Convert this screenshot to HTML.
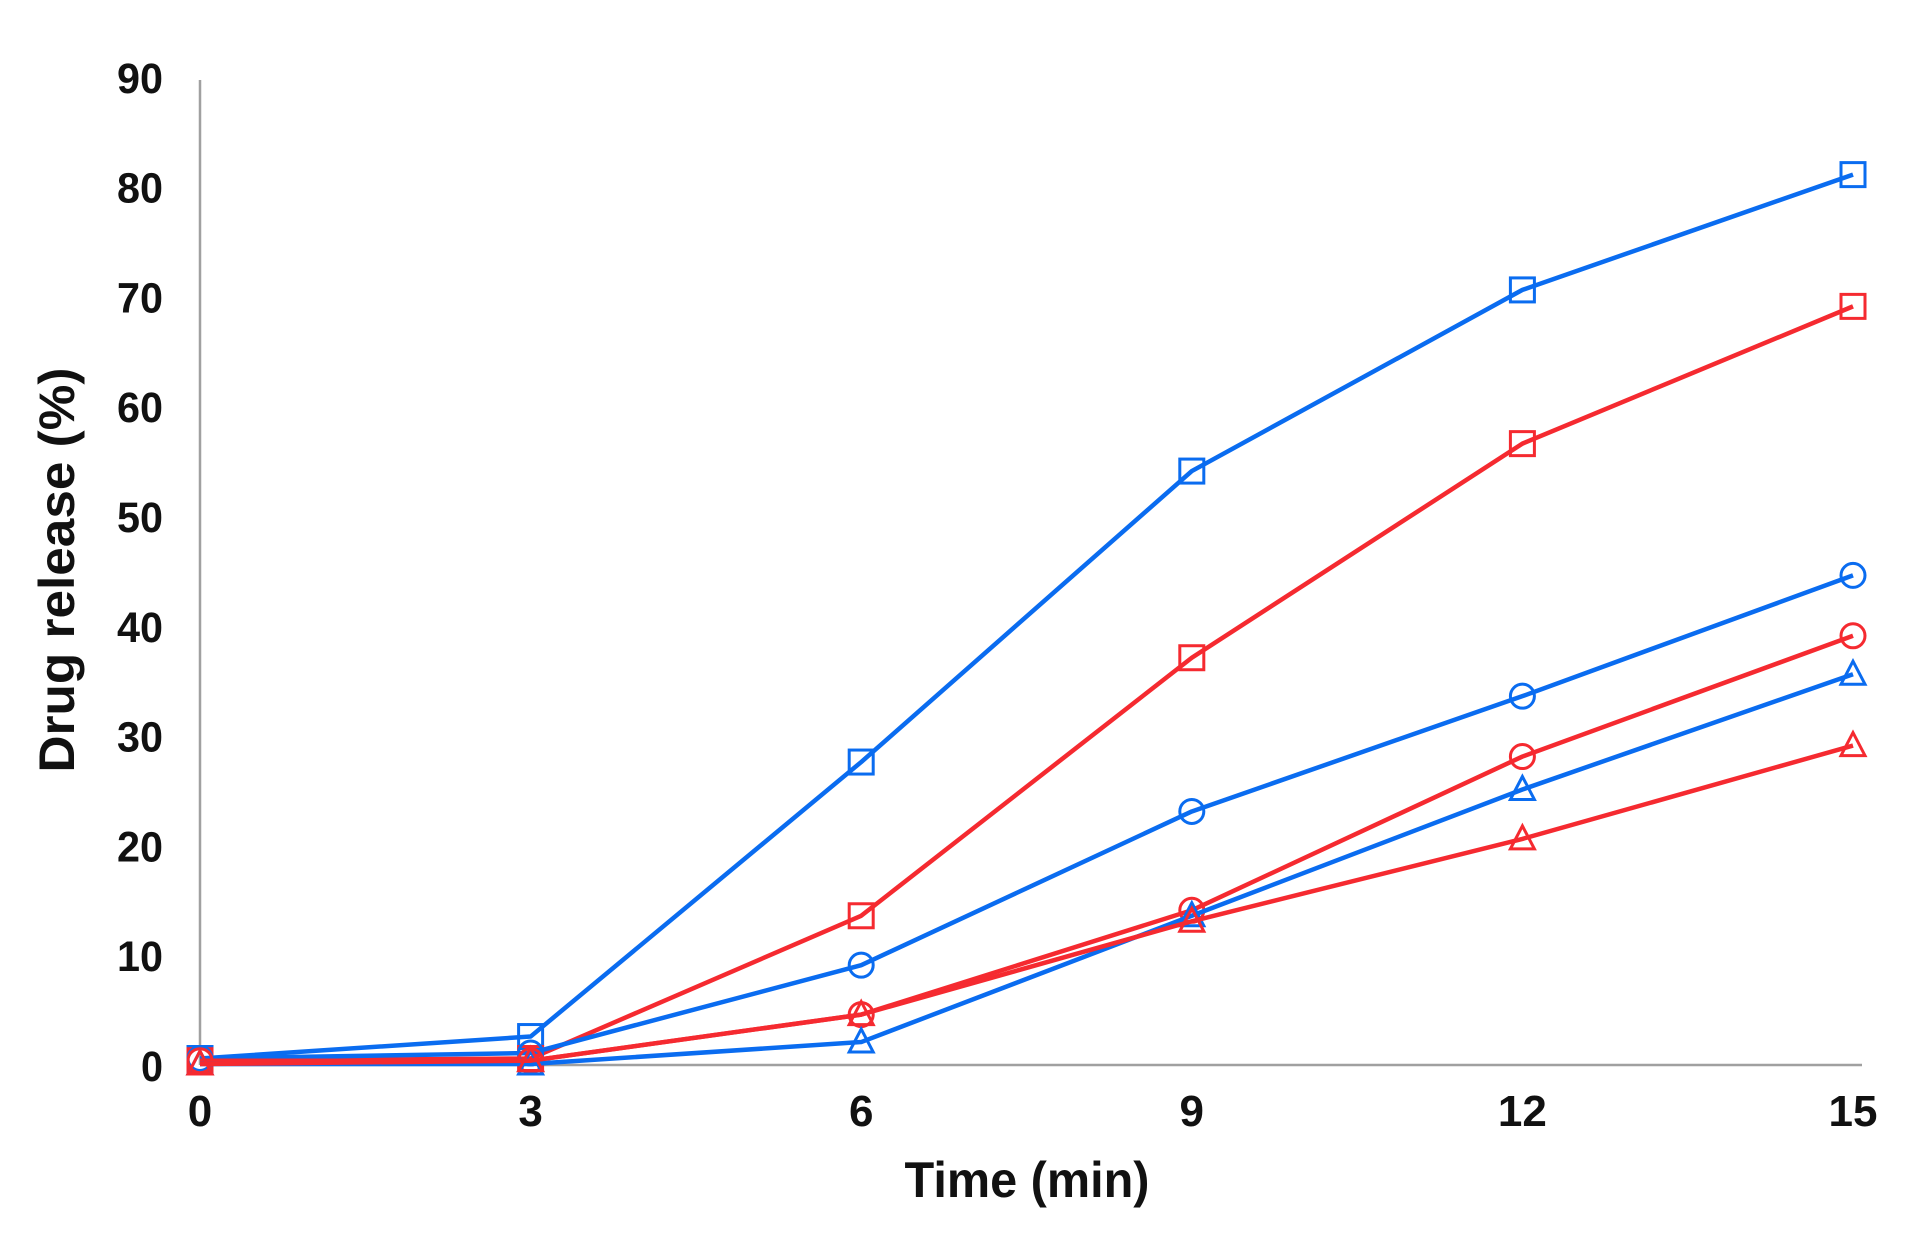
<!DOCTYPE html>
<html><head><meta charset="utf-8"><style>
html,body{margin:0;padding:0;background:#fff;}
svg{display:block;}
text{font-family:"Liberation Sans",Arial,sans-serif;font-weight:bold;fill:#111;}
</style></head><body>
<svg id="s" width="1910" height="1237" viewBox="0 0 1910 1237" xmlns="http://www.w3.org/2000/svg">
<line x1="200" y1="80" x2="200" y2="1065" stroke="#a0a0a0" stroke-width="2.5"/>
<line x1="200" y1="1065" x2="1862" y2="1065" stroke="#a0a0a0" stroke-width="2.5"/>
<g id="yt" font-size="43" text-anchor="end"></g>
<g id="xt" font-size="44" text-anchor="middle"></g>
<text x="1027" y="1197" font-size="50" text-anchor="middle" textLength="245" lengthAdjust="spacingAndGlyphs">Time (min)</text>
<text transform="translate(74,570) rotate(-90)" font-size="50" text-anchor="middle" textLength="405" lengthAdjust="spacingAndGlyphs">Drug release (%)</text>
<g id="d"></g>
</svg>
<script>
var NS="http://www.w3.org/2000/svg";
function X(t){return 200+t*(1853-200)/15;}
function Y(v){return 1064-v*10.98;}
function el(n,a,p){var e=document.createElementNS(NS,n);for(var k in a)e.setAttribute(k,a[k]);p.appendChild(e);return e;}
var yt=document.getElementById('yt'),xt=document.getElementById('xt'),d=document.getElementById('d');
for(var v=0;v<=90;v+=10){var t=el('text',{x:163,y:Y(v)+17,textLength:(v==0?22:46),lengthAdjust:'spacingAndGlyphs'},yt);t.textContent=v;}
[0,3,6,9,12,15].forEach(function(t){var e=el('text',{x:X(t),y:1126},xt);e.textContent=t;});
var B="#0a6cf0",R="#f52a30";
var S=[
[B,'s',[0.5,2.5,27.5,54,70.5,81]],
[R,'s',[0.3,0.5,13.5,37,56.5,69]],
[B,'c',[0.5,1,9,23,33.5,44.5]],
[R,'c',[0.3,0.3,4.5,14,28,39]],
[B,'t',[0,0,2,13.5,25,35.5]],
[R,'t',[0,0.3,4.5,13,20.5,29]]];
S.forEach(function(s){
 var pts=s[2].map(function(v,i){return X(i*3)+','+Y(v);}).join(' ');
 el('polyline',{points:pts,fill:'none',stroke:s[0],'stroke-width':4.5,'stroke-linejoin':'round'},d);
 s[2].forEach(function(v,i){var x=X(i*3),y=Y(v);
  if(s[1]=='s')el('rect',{x:x-12,y:y-12,width:24,height:24,fill:'none',stroke:s[0],'stroke-width':3},d);
  else if(s[1]=='c')el('circle',{cx:x,cy:y,r:12,fill:'none',stroke:s[0],'stroke-width':3},d);
  else el('polygon',{points:(x)+','+(y-13)+' '+(x-12)+','+(y+10)+' '+(x+12)+','+(y+10),fill:'none',stroke:s[0],'stroke-width':3},d);
 });
});
</script>
</body></html>
